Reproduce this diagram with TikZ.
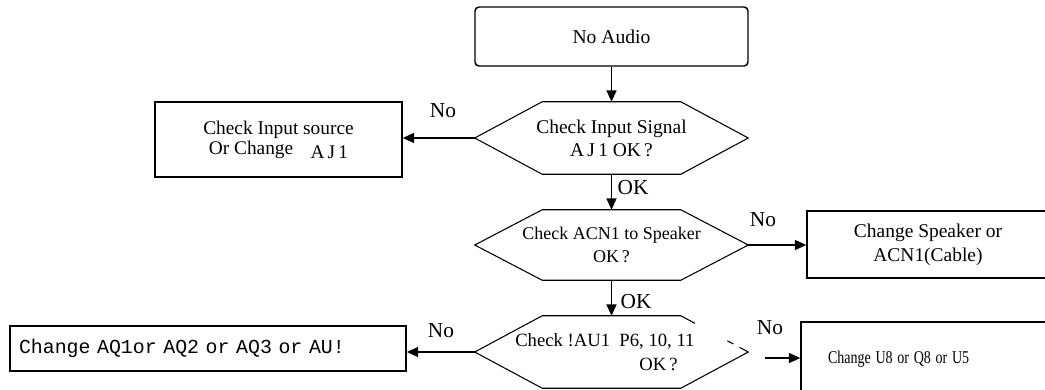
\documentclass[tikz,border=0pt]{standalone}
\usepackage{fontspec}
\setmainfont{Liberation Serif}
\setmonofont{Liberation Mono}
\usetikzlibrary{arrows.meta,calc}
\begin{document}
\begin{tikzpicture}[x=0.75pt,y=-0.75pt,
  box/.style={draw, line width=1.1pt, inner sep=0pt, align=center},
  hexn/.style={inner sep=0pt, minimum width=204.75pt, align=center},
  hexline/.style={line width=0.8pt},
  conn/.style={line width=1pt, -{Triangle[length=8.5pt,width=7.5pt]}},
  lbl/.style={font=\fontsize{16}{18}\selectfont, inner sep=0pt},
]
\useasboundingbox (0,0) rectangle (1045,389);

% start
\node[box, rounded corners=3pt, minimum width=204.75pt, minimum height=44.25pt,
      font=\fontsize{14.7}{17}\selectfont] (start) at (611.5,36.5) {No Audio};

% hexagon decision nodes
\node[hexn, minimum height=54pt, font=\fontsize{14.6}{17.25}\selectfont] (h1) at (611.5,138)
  {Check Input Signal\\A\,J\,1 OK\,?};
\node[hexn, minimum height=52.5pt, font=\fontsize{13.5}{17.25}\selectfont] (h2) at (611.5,245)
  {Check ACN1 to Speaker\\OK\,?};
\node[hexn, minimum height=54pt] (h3) at (611.5,352) {};
\node[inner sep=0pt, align=left, anchor=west, font=\fontsize{14}{18}\selectfont] (t3) at (515,352)
  {Check !AU1\ \ P6, 10, 11\\\hspace*{93pt}OK\,?};

\foreach \h in {h1,h2}{
  \draw[hexline] (\h.west) -- ($(\h.north west)+(67.5,0)$) -- ($(\h.north east)+(-67.5,0)$)
    -- (\h.east) -- ($(\h.south east)+(-67.5,0)$) -- ($(\h.south west)+(67.5,0)$) -- cycle;
}
\coordinate (h3ne) at ($(h3.north east)+(-67.5,0)$);
\draw[hexline] (h3ne) -- ($(h3ne)!0.21!(h3.east)$);
\draw[hexline] ($(h3ne)!0.69!(h3.east)$) -- ($(h3ne)!0.78!(h3.east)$);
\draw[hexline] ($(h3ne)!0.87!(h3.east)$) -- (h3.east) -- ($(h3.south east)+(-67.5,0)$)
  -- ($(h3.south west)+(67.5,0)$) -- (h3.west) -- ($(h3.north west)+(67.5,0)$) -- (h3ne);

% boxes
\node[box, minimum width=185.25pt, minimum height=56.25pt,
      font=\fontsize{14.5}{15}\selectfont] (b1) at (278.5,139.5)
  {Check Input source\\Or Change\hspace{13pt}\raisebox{-3pt}{A\,J\,1}};
\node[box, minimum width=181.5pt, minimum height=50.25pt,
      font=\fontsize{14.6}{18}\selectfont] (b2) at (928,244.5)
  {Change Speaker or\\ACN1(Cable)};
\node[box, line width=1.3pt, text width=283.5pt, inner xsep=6.75pt, minimum height=33.75pt,
      align=left, font=\ttfamily\fontsize{14.9}{17}\selectfont] (b3) at (208,348.5)
  {Change AQ1or AQ2 or AQ3 or AU!};
\node[box, text width=146.25pt, inner xsep=20.25pt, minimum height=55.5pt,
      align=left, font=\fontsize{13.5}{15}\selectfont] (b4) at (925.5,359)
  {\scalebox{0.78}[1]{Change U8 or Q8 or U5}};

% connectors
\draw[conn] (start.south) -- (h1.north);
\draw[conn] (h1.west) -- (h1.west -| b1.east);
\draw[conn] (h1.south) -- (h2.north);
\draw[conn] (h2.east) -- (h2.east -| b2.west);
\draw[conn] (h2.south) -- (h3.north);
\draw[conn] (h3.west) -- (h3.west -| b3.east);
\coordinate (r4) at (765,358);
\draw[conn] (r4) -- (r4 -| b4.west);

% labels
\node[lbl] (no1) at (443,111) {No};
\node[lbl] (ok1) at (633,188) {OK};
\node[lbl] (no2) at (763,220) {No};
\node[lbl] (ok2) at (636,302) {OK};
\node[lbl] (no3) at (441,331) {No};
\node[lbl] (no4) at (770,328) {No};
\end{tikzpicture}
\end{document}
